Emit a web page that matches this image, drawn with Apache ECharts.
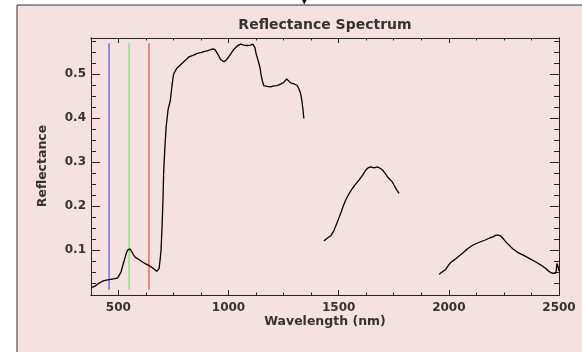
<!DOCTYPE html>
<html>
<head>
<meta charset="utf-8">
<script src="https://cdn.jsdelivr.net/npm/echarts@6/dist/echarts.min.js"></script>
<style>
  html, body { margin: 0; padding: 0; background: #ffffff; }
  #chart { width: 582px; height: 352px; }
</style>
</head>
<body>
<div id="chart"></div>
<script>
// Spectrum segments (wavelength in nm, reflectance); water absorption bands are left out
const visNirWl = [378,386,394,409,420,432,445,459,472,485,497,505,512,518,527,535,542,548,553,560,568,576,583,595,606,620,636,648,659,668,674,680,685,689,694,699,703,706,711,717,726,736,745,751,758,767,780,797,810,820,842,858,875,888,903,915,926,933,938,945,952,964,972,979,990,1001,1012,1024,1040,1055,1070,1085,1100,1110,1115,1120,1126,1132,1138,1143,1148,1153,1160,1176,1191,1206,1221,1236,1251,1258,1264,1270,1282,1297,1312,1320,1327,1333,1338,1342];
const visNirRefl = [0.015,0.016,0.018,0.024,0.027,0.030,0.032,0.033,0.034,0.035,0.037,0.041,0.050,0.061,0.077,0.091,0.100,0.104,0.103,0.097,0.090,0.084,0.081,0.078,0.074,0.070,0.066,0.062,0.058,0.054,0.052,0.053,0.058,0.075,0.10,0.16,0.22,0.28,0.33,0.38,0.42,0.44,0.48,0.50,0.507,0.514,0.520,0.528,0.534,0.539,0.543,0.547,0.549,0.551,0.553,0.555,0.557,0.560,0.556,0.552,0.545,0.533,0.529,0.528,0.532,0.539,0.547,0.556,0.564,0.568,0.566,0.565,0.566,0.568,0.570,0.560,0.545,0.535,0.524,0.515,0.498,0.486,0.474,0.472,0.471,0.473,0.474,0.477,0.481,0.484,0.489,0.485,0.480,0.478,0.474,0.466,0.456,0.44,0.42,0.399];

const swir1Wl = [1433,1440,1448,1456,1465,1479,1494,1509,1520,1532,1547,1562,1577,1592,1608,1623,1634,1645,1653,1661,1668,1676,1688,1699,1712,1724,1736,1745,1751,1762,1774];
const swir1Refl = [0.121,0.124,0.127,0.127,0.133,0.145,0.164,0.183,0.199,0.214,0.228,0.240,0.250,0.259,0.270,0.282,0.287,0.289,0.287,0.287,0.289,0.289,0.286,0.282,0.274,0.265,0.259,0.254,0.248,0.238,0.229];

const swir2Wl = [1956,1963,1971,1980,1986,1995,2005,2017,2030,2045,2062,2085,2108,2125,2145,2165,2183,2200,2214,2225,2236,2250,2262,2274,2290,2312,2340,2373,2395,2418,2440,2456,2466,2476,2486,2491,2494,2497,2500];
const swir2Refl = [0.045,0.049,0.051,0.053,0.056,0.063,0.070,0.075,0.080,0.086,0.093,0.103,0.111,0.115,0.119,0.123,0.127,0.130,0.134,0.134,0.132,0.124,0.117,0.111,0.103,0.095,0.088,0.079,0.073,0.066,0.058,0.051,0.048,0.047,0.048,0.070,0.072,0.060,0.052];

// RGB band markers
const bandWl = [458, 549, 639];
const bandColors = ['#5c5cf0', '#66ee66', '#f05555'];
const bandRange = [0.01, 0.57];

// Axis ranges and ticks
const xRange = [376, 2500];
const yRange = [-0.002, 0.582];
const xMajor = [500, 1000, 1500, 2000, 2500];
const xMinor = [500, 625, 750, 875, 1000, 1125, 1250, 1375, 1500, 1625, 1750, 1875, 2000, 2125, 2250, 2375, 2500];
const yMajor = [0.1, 0.2, 0.3, 0.4, 0.5];
const yMinor = [0.025, 0.05, 0.075, 0.1, 0.125, 0.15, 0.175, 0.2, 0.225, 0.25, 0.275, 0.3, 0.325, 0.35, 0.375, 0.4, 0.425, 0.45, 0.475, 0.5, 0.525, 0.55, 0.575];

const ink = '#222222';
const textColor = '#333333';
const font = 'DejaVu Sans';

function zip(xs, ys) { return xs.map((x, i) => [x, ys[i]]); }

function xAxisDef(position, ticks, len, labels) {
  return {
    type: 'value', position: position, min: xRange[0], max: xRange[1],
    axisLine: { show: true, onZero: false, lineStyle: { color: ink, width: 1 } },
    axisTick: { show: true, inside: true, length: len, customValues: ticks, lineStyle: { color: ink, width: 1 } },
    axisLabel: labels ? { show: true, customValues: xMajor, margin: 7, color: textColor,
      fontFamily: font, fontWeight: 'bold', fontSize: 12, formatter: v => String(Math.round(v)) } : { show: false },
    splitLine: { show: false }
  };
}
function yAxisDef(position, ticks, len, labels) {
  return {
    type: 'value', position: position, min: yRange[0], max: yRange[1],
    axisLine: { show: true, onZero: false, lineStyle: { color: ink, width: 1 } },
    axisTick: { show: true, inside: true, length: len, customValues: ticks, lineStyle: { color: ink, width: 1 } },
    axisLabel: labels ? { show: true, customValues: yMajor, margin: 5, color: textColor,
      fontFamily: font, fontWeight: 'bold', fontSize: 12, formatter: v => v.toFixed(1) } : { show: false },
    splitLine: { show: false }
  };
}

const series = [];
bandWl.forEach((wl, i) => {
  series.push({
    type: 'line', xAxisIndex: 0, yAxisIndex: 0, symbol: 'none', silent: true,
    data: [[wl, bandRange[0]], [wl, bandRange[1]]],
    lineStyle: { color: bandColors[i], width: 1.3 }
  });
});
[[visNirWl, visNirRefl], [swir1Wl, swir1Refl], [swir2Wl, swir2Refl]].forEach(([wl, r]) => {
  series.push({
    type: 'line', xAxisIndex: 0, yAxisIndex: 0, symbol: 'none', silent: true,
    data: zip(wl, r),
    lineStyle: { color: '#000000', width: 1.3 }
  });
});

const chart = echarts.init(document.getElementById('chart'), null, { renderer: 'canvas' });
chart.setOption({
  backgroundColor: '#ffffff',
  animation: false,
  grid: { left: 91, right: 23, top: 38, bottom: 57, containLabel: false },
  xAxis: [
    xAxisDef('bottom', xMajor, 5, true),
    xAxisDef('bottom', xMinor, 2.5, false),
    xAxisDef('top', xMajor, 5, false),
    xAxisDef('top', xMinor, 2.5, false)
  ],
  yAxis: [
    yAxisDef('left', yMajor, 9, true),
    yAxisDef('left', yMinor, 5, false),
    yAxisDef('right', yMajor, 9, false),
    yAxisDef('right', yMinor, 5, false)
  ],
  graphic: [
    { type: 'rect', z: -10, shape: { x: 17, y: 5, width: 600, height: 400 },
      style: { fill: '#f5e2e0', stroke: '#333333', lineWidth: 1 } },
    { type: 'polygon', z: 10, shape: { points: [[302, 0], [306.5, 0], [304.25, 4.5]] },
      style: { fill: '#111111' } },
    { type: 'text', z: 10, x: 325, y: 25,
      style: { text: 'Reflectance Spectrum', fill: textColor, font: 'bold 14px "DejaVu Sans"',
        textAlign: 'center', textVerticalAlign: 'middle' } },
    { type: 'text', z: 10, x: 325, y: 322,
      style: { text: 'Wavelength (nm)', fill: textColor, font: 'bold 12.5px "DejaVu Sans"',
        textAlign: 'center', textVerticalAlign: 'middle' } },
    { type: 'text', z: 10, x: 43, y: 166, rotation: Math.PI / 2,
      style: { text: 'Reflectance', fill: textColor, font: 'bold 12.5px "DejaVu Sans"',
        textAlign: 'center', textVerticalAlign: 'middle' } }
  ],
  series: series
});
</script>
</body>
</html>
